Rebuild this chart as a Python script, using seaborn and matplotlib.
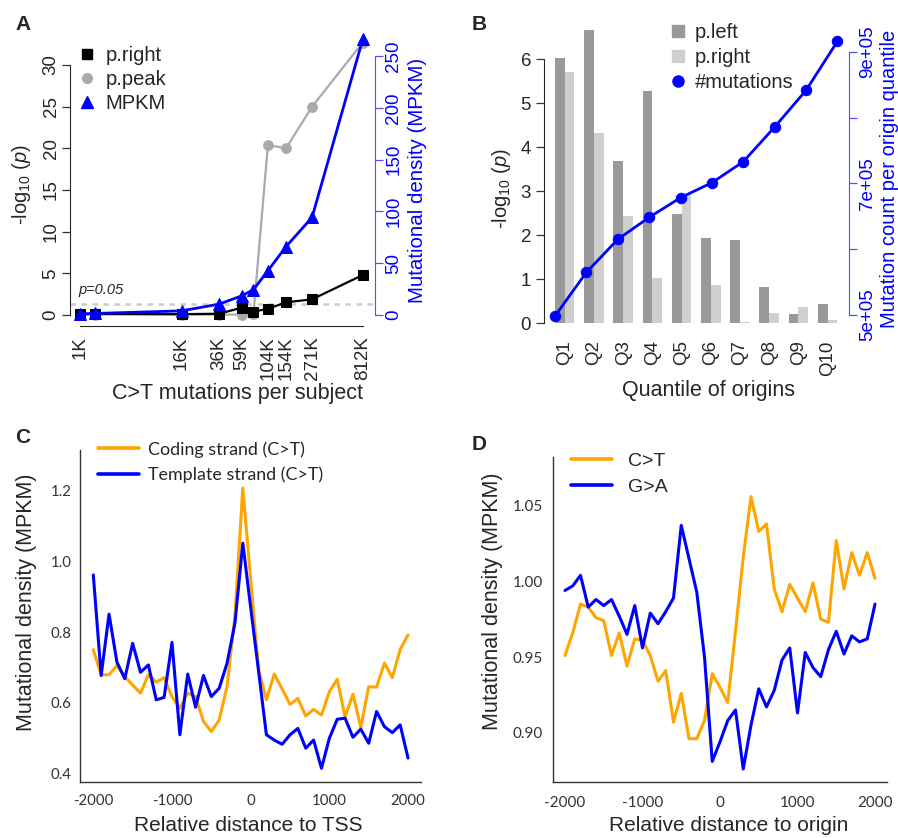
import matplotlib
matplotlib.use('Agg')
import matplotlib.pyplot as plt
import seaborn as sns
import pandas as pd
import numpy as np
from matplotlib.lines import Line2D
from matplotlib.ticker import NullLocator

# ---- panel A: significance vs. C>T burden per subject ----
subject_muts_k = [1.77, 2.45, 16, 36, 59, 76, 104, 154, 271, 812]
subject_labels = ['1K', '', '16K', '36K', '59K', '', '104K', '154K', '271K', '812K']
p_right_a = [0.1, 0.15, 0.1, 0.15, 0.88, 0.4, 0.74, 1.52, 1.88, 4.8]
p_peak_a = [0.05, 0.05, 0.05, 0.05, 0.05, 0.1, 20.4, 20.0, 25.0, 32.7]
mpkm_a = [1.0, 1.5, 4.0, 10.5, 18.5, 24.5, 42.8, 66.0, 94.3, 266.0]

# ---- panel B: origin quantiles ----
quantiles = ['Q1', 'Q2', 'Q3', 'Q4', 'Q5', 'Q6', 'Q7', 'Q8', 'Q9', 'Q10']
p_left_b = [6.04, 6.68, 3.70, 5.27, 2.48, 1.95, 1.89, 0.83, 0.21, 0.44]
p_right_b = [5.72, 4.32, 2.43, 1.04, 2.92, 0.87, 0.02, 0.23, 0.36, 0.08]
mut_count_b = [4.985e5, 5.648e5, 6.149e5, 6.484e5, 6.782e5, 7.010e5, 7.329e5, 7.856e5, 8.413e5, 9.157e5]

# ---- panels C and D: profiles around TSS / origin ----
dist = list(range(-2000, 2001, 100))
coding_c = [0.750, 0.679, 0.679, 0.705, 0.674, 0.650, 0.627, 0.679, 0.658, 0.671,
            0.617, 0.584, 0.627, 0.617, 0.547, 0.518, 0.551, 0.646, 0.845, 1.208,
            0.950, 0.695, 0.608, 0.681, 0.639, 0.595, 0.612, 0.562, 0.581, 0.565,
            0.631, 0.666, 0.560, 0.624, 0.530, 0.645, 0.644, 0.712, 0.671, 0.751,
            0.792]
template_c = [0.962, 0.677, 0.851, 0.715, 0.668, 0.768, 0.686, 0.707, 0.608, 0.615,
              0.771, 0.509, 0.681, 0.587, 0.677, 0.617, 0.641, 0.712, 0.825, 1.052,
              0.870, 0.690, 0.509, 0.494, 0.482, 0.509, 0.527, 0.471, 0.494, 0.414,
              0.499, 0.553, 0.556, 0.502, 0.525, 0.485, 0.575, 0.532, 0.515, 0.537,
              0.443]
ct_d = [0.951, 0.966, 0.985, 0.983, 0.976, 0.974, 0.951, 0.966, 0.944, 0.962,
        0.961, 0.951, 0.934, 0.941, 0.907, 0.926, 0.896, 0.896, 0.908, 0.939,
        0.930, 0.920, 0.967, 1.016, 1.056, 1.033, 1.038, 0.995, 0.980, 0.998,
        0.989, 0.980, 0.999, 0.975, 0.973, 1.027, 0.995, 1.019, 1.004, 1.019,
        1.002]
ga_d = [0.994, 0.997, 1.004, 0.983, 0.988, 0.984, 0.988, 0.977, 0.965, 0.984,
        0.956, 0.979, 0.972, 0.980, 0.989, 1.037, 1.015, 0.993, 0.950, 0.881,
        0.894, 0.908, 0.915, 0.876, 0.905, 0.929, 0.917, 0.928, 0.948, 0.956,
        0.913, 0.953, 0.943, 0.937, 0.955, 0.967, 0.952, 0.964, 0.960, 0.962,
        0.985]

sns.set_style('white')
plt.rcParams['font.family'] = ['Liberation Sans', 'DejaVu Sans']
plt.rcParams['mathtext.fontset'] = 'custom'
plt.rcParams['mathtext.rm'] = 'Liberation Sans'
plt.rcParams['mathtext.it'] = 'Liberation Sans:italic'
plt.rcParams['axes.unicode_minus'] = False

BLUE = '#0000ff'
ORANGE = '#ffa500'
GREY_PT = '#aaaaaa'
W, H = 898, 838
fig = plt.figure(figsize=(W / 100, H / 100), dpi=100)


def box(l, t, r, b):
    # pixel box (left, top, right, bottom) -> figure fraction rect
    return [l / W, 1 - b / H, (r - l) / W, (b - t) / H]


def fpos(x, y):
    return (x / W, 1 - y / H)


# ================= A =================
ax_a = fig.add_axes(box(70, 31.7, 375, 326))
ax_a.axhline(-np.log10(0.05), color='#cccccc', lw=1.8, ls=(0, (2.2, 2.2)), zorder=1)
sns.lineplot(x=subject_muts_k, y=p_peak_a, ax=ax_a, color=GREY_PT, lw=1.6,
             marker='o', markersize=7, markeredgecolor=GREY_PT)
sns.lineplot(x=subject_muts_k, y=p_right_a, ax=ax_a, color='black', lw=1.6,
             marker='s', markersize=6.5, markeredgecolor='black')
ax_a.set_xscale('log')
ax_a.set_ylim(-1.32, 34.0)
ax_a.set_yticks(range(0, 31, 5))
tick_x = [v for v, l in zip(subject_muts_k, subject_labels) if l]
ax_a.set_xticks(tick_x)
ax_a.set_xticklabels([l for l in subject_labels if l])
ax_a.xaxis.set_minor_locator(NullLocator())
ax_a.tick_params(axis='both', length=6, width=0.9, labelsize=13.5, pad=1.5, color='#333333')
ax_a.tick_params(axis='x', labelrotation=90)
ax_a.tick_params(axis='y', labelrotation=90)
for s in ('top', 'right'):
    ax_a.spines[s].set_visible(False)
ax_a.spines['left'].set_bounds(0, 30)
ax_a.spines['bottom'].set_bounds(tick_x[0], tick_x[-1])
ax_a.set_xlabel('C>T mutations per subject', fontsize=15.5)
ax_a.set_ylabel(r'-log$_{10}$ ($p$)', fontsize=14.5)
ax_a.xaxis.set_label_coords(0.548, -0.1937)
ax_a.yaxis.set_label_coords(-0.1197, 0.479)
ax_a.text(1.69, 2.2, 'p=0.05', style='italic', fontsize=10.5, ha='left', va='bottom')

ax_a2 = ax_a.twinx()
sns.lineplot(x=subject_muts_k, y=mpkm_a, ax=ax_a2, color=BLUE, lw=2,
             marker='^', markersize=8, markeredgecolor=BLUE)
ax_a2.set_ylim(-10.6, 273.5)
ax_a2.set_yticks(range(0, 251, 50))
for s in ('top', 'left', 'bottom'):
    ax_a2.spines[s].set_visible(False)
ax_a2.spines['right'].set_visible(True)
ax_a2.spines['right'].set_color('#5050ff')
ax_a2.spines['right'].set_bounds(0, 250)
ax_a2.tick_params(axis='y', length=6, width=0.9, labelsize=13.5, pad=1.5,
                  color='#5050ff', labelcolor=BLUE, labelrotation=90)
ax_a2.set_ylabel('Mutational density (MPKM)', fontsize=14.8, color=BLUE)
ax_a2.yaxis.set_label_coords(1.108, 0.496)
ax_a.set_xlim(1.425, 1060)

leg_a = [Line2D([], [], ls='', marker='s', color='black', ms=6.5, label='p.right'),
         Line2D([], [], ls='', marker='o', color=GREY_PT, ms=7, label='p.peak'),
         Line2D([], [], ls='', marker='^', color=BLUE, ms=8, label='MPKM')]
ax_a2.legend(handles=leg_a, loc='upper left', bbox_to_anchor=fpos(77, 46),
             bbox_transform=fig.transFigure, frameon=False, borderpad=0, borderaxespad=0,
             handlelength=1.0, handletextpad=0.4, labelspacing=0.25, fontsize=14.5)

# ================= B =================
box_b = box(543.7, 30.3, 848.7, 327)
ax_b = fig.add_axes(box_b)
bars = pd.DataFrame({'quantile': quantiles * 2,
                     'test': ['p.left'] * len(quantiles) + ['p.right'] * len(quantiles),
                     'logp': p_left_b + p_right_b})
sns.barplot(data=bars, x='quantile', y='logp', hue='test',
            palette={'p.left': '#999999', 'p.right': '#cfcfcf'},
            width=2 / 3, gap=0, saturation=1, linewidth=0, errorbar=None,
            legend=False, ax=ax_b)
ax_b.set_xlim(-0.72, 9.72)
ax_b.set_ylim(-0.084, 6.66)
ax_b.set_yticks(range(0, 7))
for s in ('top', 'right', 'bottom'):
    ax_b.spines[s].set_visible(False)
ax_b.spines['left'].set_bounds(0, 6)
ax_b.tick_params(axis='y', length=6, width=0.9, labelsize=13.5, pad=3, color='#333333', left=True)
ax_b.tick_params(axis='x', length=0, labelsize=13.5, pad=9.5, labelrotation=90)
ax_b.set_xlabel('Quantile of origins', fontsize=15.5)
ax_b.set_ylabel(r'-log$_{10}$ ($p$)', fontsize=14.5)
ax_b.xaxis.set_label_coords(0.54, -0.1775)
ax_b.yaxis.set_label_coords(-0.0997, 0.4675)

ax_b2 = fig.add_axes(box_b)
ax_b2.patch.set_visible(False)
q_index = np.arange(1, len(quantiles) + 1)
sns.lineplot(x=q_index, y=mut_count_b, ax=ax_b2, color=BLUE, lw=2,
             marker='o', markersize=7.5, markeredgecolor=BLUE)
ax_b2.set_xlim(0.64, 10.36)
ax_b2.set_ylim(4.818e5, 9.325e5)
ax_b2.set_xticks([])
ax_b2.yaxis.tick_right()
ax_b2.yaxis.set_label_position('right')
ax_b2.set_yticks([5e5, 6e5, 7e5, 8e5, 9e5])
ax_b2.set_yticklabels(['5e+05', '', '7e+05', '', '9e+05'])
for s in ('top', 'left', 'bottom'):
    ax_b2.spines[s].set_visible(False)
ax_b2.spines['right'].set_color('#5050ff')
ax_b2.spines['right'].set_bounds(5e5, 9e5)
ax_b2.tick_params(axis='y', length=6, width=0.9, labelsize=13.5, pad=1.5,
                  color='#5050ff', labelcolor=BLUE, labelrotation=90, right=True)
ax_b2.set_ylabel('Mutation count per origin quantile', fontsize=14.5, color=BLUE)
ax_b2.yaxis.set_label_coords(1.1026, 0.5)

leg_b = [Line2D([], [], ls='', marker='s', color='#999999', ms=8, label='p.left'),
         Line2D([], [], ls='', marker='s', color='#cfcfcf', ms=8, label='p.right'),
         Line2D([], [], ls='', marker='o', color=BLUE, ms=8, label='#mutations')]
ax_b2.legend(handles=leg_b, loc='upper left', bbox_to_anchor=fpos(667.7, 23),
             bbox_transform=fig.transFigure, frameon=False, borderpad=0, borderaxespad=0,
             handlelength=1.0, handletextpad=0.36, labelspacing=0.3, fontsize=14.5)

# ================= C =================
ax_c = fig.add_axes(box(80, 450, 420.7, 781.7))
sns.lineplot(x=dist, y=coding_c, ax=ax_c, color=ORANGE, lw=2.2, label='Coding strand (C>T)')
sns.lineplot(x=dist, y=template_c, ax=ax_c, color=BLUE, lw=2.2, label='Template strand (C>T)')
ax_c.set_xlim(-2169, 2161)
ax_c.set_ylim(0.376, 1.316)
ax_c.set_xticks([-2000, -1000, 0, 1000, 2000])
ax_c.set_yticks([0.4, 0.6, 0.8, 1.0, 1.2])
ax_c.set_yticklabels(['0.4', '0.6', '0.8', '1.0', '1.2'])

# ================= D =================
ax_d = fig.add_axes(box(553.3, 456.7, 886.7, 781.7))
sns.lineplot(x=dist, y=ct_d, ax=ax_d, color=ORANGE, lw=2.2, label='C>T')
sns.lineplot(x=dist, y=ga_d, ax=ax_d, color=BLUE, lw=2.2, label='G>A')
ax_d.set_xlim(-2151, 2151)
ax_d.set_ylim(0.8676, 1.0824)
ax_d.set_xticks([-2000, -1000, 0, 1000, 2000])
ax_d.set_yticks([0.90, 0.95, 1.00, 1.05])
ax_d.set_yticklabels(['0.90', '0.95', '1.00', '1.05'])

for ax, tsize in ((ax_c, 10.8), (ax_d, 11)):
    for s in ('top', 'right'):
        ax.spines[s].set_visible(False)
    for s in ('left', 'bottom'):
        ax.spines[s].set_color('#333333')
        ax.spines[s].set_linewidth(1.0)
    ax.tick_params(axis='both', length=0, labelsize=tsize, labelcolor='#333333')
    for lab in ax.get_xticklabels() + ax.get_yticklabels():
        lab.set_family(['Lato', 'DejaVu Sans'])
    ax.set_ylabel('Mutational density (MPKM)', fontsize=15.5)

ax_c.tick_params(axis='x', pad=9)
ax_c.tick_params(axis='y', pad=6)
ax_d.tick_params(axis='x', pad=10.5)
ax_d.tick_params(axis='y', pad=7.7)
ax_c.set_xlabel('Relative distance to TSS', fontsize=15)
ax_d.set_xlabel('Relative distance to origin', fontsize=15)
ax_c.xaxis.set_label_coords(0.494, -0.103)
ax_c.yaxis.set_label_coords(-0.127, 0.540)
ax_d.xaxis.set_label_coords(0.525, -0.104)
ax_d.yaxis.set_label_coords(-0.150, 0.554)

ax_c.legend(loc='upper left', bbox_to_anchor=fpos(98, 441), bbox_transform=fig.transFigure,
            frameon=False, borderpad=0, borderaxespad=0, handlelength=2.3,
            handletextpad=0.5, labelspacing=0.5, prop={'family': ['Lato', 'DejaVu Sans'], 'size': 12.9})
leg_d = ax_d.legend(loc='upper left', bbox_to_anchor=fpos(570.7, 452.5), bbox_transform=fig.transFigure,
                    frameon=False, borderpad=0, borderaxespad=0, handlelength=2.1,
                    handletextpad=0.86, labelspacing=0.4, fontsize=14)
for lg in (ax_c.get_legend(), leg_d):
    for ln in lg.get_lines():
        ln.set_linewidth(2.6)

# panel letters
for letter, (x, y) in zip('ABCD', [(15, 15), (472, 15), (15, 428), (472, 435)]):
    fig.text(*fpos(x, y), letter, fontsize=15, fontweight='bold', ha='left', va='top')

plt.setp(ax_a.get_yticklabels(), va='center')
plt.setp(ax_a2.get_yticklabels(), va='center')
plt.setp(ax_b2.get_yticklabels(), va='center')

fig.savefig('out.png', dpi=100)
